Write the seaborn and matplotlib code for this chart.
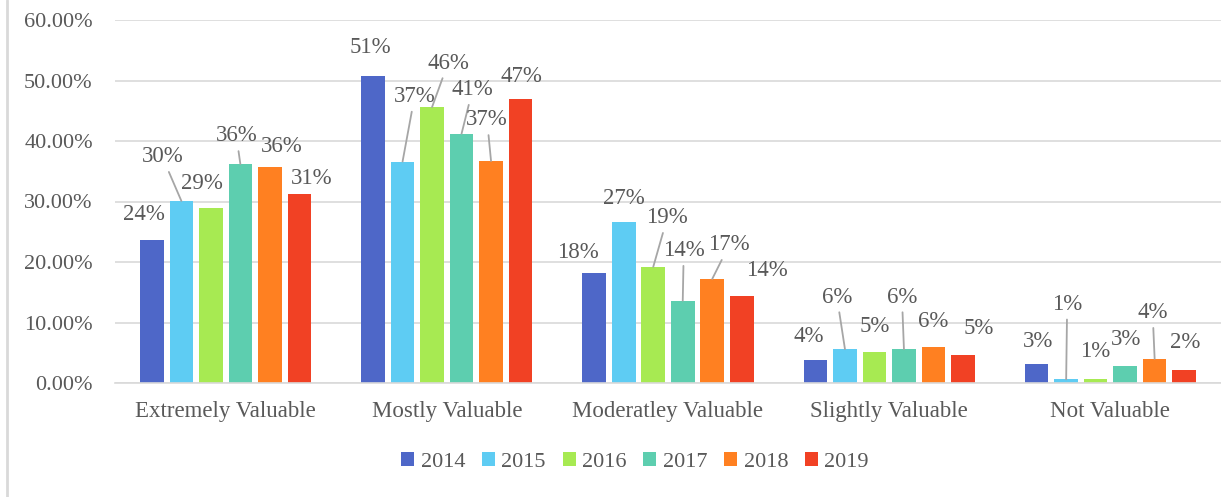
import pandas as pd
import seaborn as sns
import matplotlib.pyplot as plt
from matplotlib.lines import Line2D
from matplotlib.ticker import FuncFormatter

categories = ["Extremely Valuable", "Mostly Valuable", "Moderatley Valuable",
              "Slightly Valuable", "Not Valuable"]
years = ["2014", "2015", "2016", "2017", "2018", "2019"]

# percent values per year, one entry per category
v2014 = [23.6, 50.7, 18.2, 3.8, 3.1]
v2015 = [30.1, 36.6, 26.6, 5.6, 0.6]
v2016 = [28.9, 45.6, 19.2, 5.1, 0.7]
v2017 = [36.2, 41.2, 13.6, 5.6, 2.8]
v2018 = [35.7, 36.7, 17.2, 6.0, 4.0]
v2019 = [31.2, 46.9, 14.4, 4.6, 2.1]
series = [v2014, v2015, v2016, v2017, v2018, v2019]

colors = ["#4E67C8", "#5ECCF3", "#A7EA52", "#5DCEAF", "#FF8021", "#F14124"]

# label offsets from bar top (pixels) and whether a leader line is drawn
label_dx = [[-8, -3, -16, -7, 1],
            [-19, 12, 0, -8, 1],
            [-9, 16, 14, 0, 0],
            [-4, 11, 1, -2, 1],
            [12, -4, 17, 0, -2],
            [12, 1, 25, 16, 1]]
label_dy = [[26, 29, 20, 24, 23],
            [44, 65, 24, 52, 75],
            [25, 44, 49, 26, 27],
            [28, 44, 50, 52, 27],
            [21, 41, 34, 25, 46],
            [16, 23, 25, 27, 28]]
leader = [[0, 0, 0, 0, 0],
          [1, 1, 0, 1, 1],
          [0, 1, 1, 0, 0],
          [1, 1, 1, 1, 0],
          [0, 1, 1, 0, 1],
          [0, 0, 0, 0, 0]]

rows = []
for y, vals in zip(years, series):
    for c, v in zip(categories, vals):
        rows.append({"category": c, "year": y, "value": v})
df = pd.DataFrame(rows)

sns.set_style("white")
plt.rcParams["font.family"] = ["Liberation Serif", "DejaVu Serif"]
grey = "#595959"

fig = plt.figure(figsize=(12.21, 4.97), dpi=100)
ax = fig.add_axes([115 / 1221, 1 - 383 / 497, 1106 / 1221, 363 / 497])

sns.barplot(data=df, x="category", y="value", hue="year", palette=colors,
            width=0.8, gap=0.2, saturation=1, ax=ax, edgecolor="none")

ax.set_ylim(0, 60)
ax.set_yticks(range(0, 61, 10))
ax.yaxis.set_major_formatter(FuncFormatter(lambda v, p: "{:.2f}%".format(v)))
ax.grid(axis="y", color="#D9D9D9", linewidth=1.2)
ax.set_axisbelow(True)
for s in ["top", "right", "left"]:
    ax.spines[s].set_visible(False)
ax.spines["bottom"].set_color("#D9D9D9")
ax.spines["bottom"].set_linewidth(1.2)
ax.tick_params(axis="y", length=0, pad=16, labelsize=16, labelcolor=grey)
ax.tick_params(axis="x", length=0, pad=13, labelsize=16.5, labelcolor=grey)
ax.set_xlabel("")
ax.set_ylabel("")

for i, cont in enumerate(ax.containers):
    for j, bar in enumerate(cont):
        h = bar.get_height()
        x = bar.get_x() + bar.get_width() / 2
        kw = {}
        if leader[i][j]:
            kw["arrowprops"] = dict(arrowstyle="-", color="#A6A6A6", lw=1.3,
                                    shrinkA=1, shrinkB=0)
        ax.annotate("{:.0f}%".format(h), xy=(x, h),
                    xytext=(label_dx[i][j], label_dy[i][j]),
                    textcoords="offset pixels", ha="center", va="center",
                    fontsize=16.5, color=grey, **kw)

handles, labels = ax.get_legend_handles_labels()
ax.get_legend().remove()
fig.legend(handles, labels, loc="center", bbox_to_anchor=(635 / 1221, 1 - 462 / 497),
           ncol=6, frameon=False, fontsize=16, labelcolor=grey,
           handlelength=0.58, handleheight=0.58, handletextpad=0.3,
           columnspacing=0.75)

fig.add_artist(Line2D([7 / 1221, 7 / 1221], [0, 1], transform=fig.transFigure,
                      color="#D9D9D9", linewidth=2))

fig.savefig("out.png", dpi=100)
